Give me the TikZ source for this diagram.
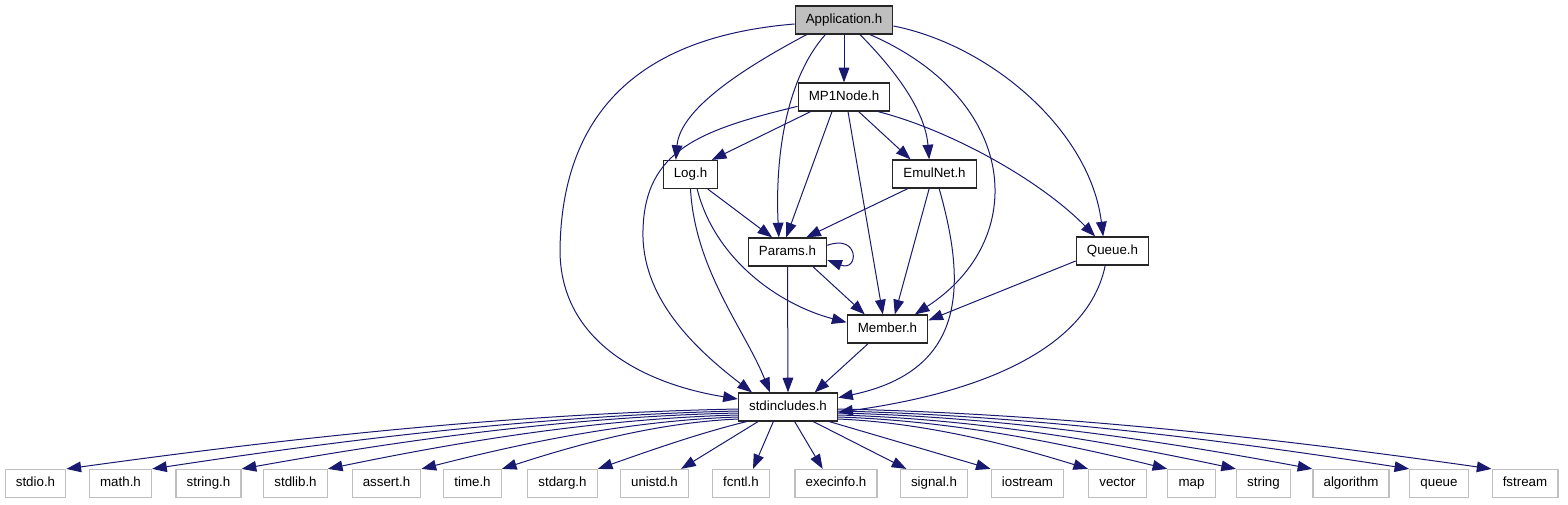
\documentclass[tikz,border=0pt]{standalone}
\usepackage{fontspec}
\setmainfont{Liberation Sans}
\usetikzlibrary{arrows.meta}
\definecolor{edgeblue}{RGB}{25,25,112}
\definecolor{boxgray}{RGB}{191,191,191}

\begin{document}
\begin{tikzpicture}[>={Triangle[length=11pt,width=8pt]}, x=0.75pt, y=-0.75pt,
  hdr/.style={draw=black!85, line width=0.9pt, fill=white, minimum height=21pt,
              text height=7.2pt, text depth=2pt,
              inner xsep=8pt, inner ysep=0pt, font=\fontsize{10}{12}\selectfont},
  sys/.style={hdr, draw=boxgray},
  dep/.style={->, draw=edgeblue, line width=0.75pt}]
  \useasboundingbox (0,0) rectangle (1568,504);

  % Cabeceras del proyecto
  \node[hdr, fill=boxgray] (app) at (844,20)  {Application.h};
  \node[hdr] (mp1node) at (844,97)    {MP1Node.h};
  \node[hdr] (logh)    at (690.5,174.5) {Log.h};
  \node[hdr] (emulnet) at (934.5,174) {EmulNet.h};
  \node[hdr] (params)  at (787.5,252) {Params.h};
  \node[hdr] (queueh)  at (1112.5,251) {Queue.h};
  \node[hdr] (member)  at (887.5,329) {Member.h};
  \node[hdr] (stdinc)  at (788,407)   {stdincludes.h};

  % Cabeceras del sistema
  \node[sys] (stdioh)    at (35.5,483.5)  {stdio.h};
  \node[sys] (mathh)     at (120.5,483.5) {math.h};
  \node[sys] (stringh)   at (208.5,483.5) {string.h};
  \node[sys] (stdlibh)   at (295.5,483.5) {stdlib.h};
  \node[sys] (asserth)   at (386.5,483.5) {assert.h};
  \node[sys] (timeh)     at (472.5,483.5) {time.h};
  \node[sys] (stdargh)   at (562.5,483.5) {stdarg.h};
  \node[sys] (unistdh)   at (654.5,483.5) {unistd.h};
  \node[sys] (fcntlh)    at (741,483.5)   {fcntl.h};
  \node[sys] (execinfoh) at (836,483.5)   {execinfo.h};
  \node[sys] (signalh)   at (934,483.5)   {signal.h};
  \node[sys] (iostream)  at (1027.5,483.5) {iostream};
  \node[sys] (vector)    at (1117.5,483.5) {vector};
  \node[sys] (map)       at (1191.5,483.5) {map};
  \node[sys] (string)    at (1263.5,483.5) {string};
  \node[sys] (algorithm) at (1351,483.5)  {algorithm};
  \node[sys] (queue)     at (1439,483.5)  {queue};
  \node[sys] (fstream)   at (1525,483.5)  {fstream};

  % Desde Application.h
  \draw[dep] (app.south) -- (mp1node.north);
  \draw[dep] ([yshift=-3pt]app.west) .. controls (660,35) and (562,95) .. (560,250)
        .. controls (560,345) and (650,385) .. ([yshift=6pt]stdinc.west);
  \draw[dep] ([xshift=-28pt]app.south) .. controls (740,70) and (680,110) .. ([xshift=-11pt]logh.north);
  \draw[dep] ([xshift=-14pt]app.south) .. controls (785,80) and (775,160) .. ([xshift=-6.5pt]params.north);
  \draw[dep] ([xshift=12pt]app.south) .. controls (895,70) and (925,110) .. ([xshift=-4pt]emulnet.north);
  \draw[dep] ([xshift=19.5pt]app.south) .. controls (1020,100) and (1030,240) .. ([xshift=20.5pt]member.north);
  \draw[dep] ([yshift=-4.5pt]app.east) .. controls (990,45) and (1090,130) .. ([xshift=-7pt]queueh.north);

  % Desde MP1Node.h
  \draw[dep] ([xshift=-25pt]mp1node.south) -- ([xshift=16pt]logh.north);
  \draw[dep] ([xshift=-9pt]mp1node.south) -- ([xshift=-1pt]params.north);
  \draw[dep] ([xshift=3pt]mp1node.south) -- ([xshift=-3.5pt]member.north);
  \draw[dep] ([xshift=11pt]mp1node.south) -- ([xshift=-18pt]emulnet.north);
  \draw[dep] ([xshift=25.5pt]mp1node.south) .. controls (950,130) and (1040,180) .. ([xshift=-13pt]queueh.north);
  \draw[dep] ([yshift=-7pt]mp1node.west) .. controls (700,130) and (645,150) .. (643,230)
        .. controls (641,295) and (690,345) .. ([xshift=-27pt]stdinc.north);

  % Desde Log.h, Params.h, EmulNet.h, Queue.h y Member.h
  \draw[dep] ([xshift=13pt]logh.south) -- ([xshift=-11.5pt]params.north);
  \draw[dep] ([xshift=5pt]logh.south) .. controls (715,260) and (780,305) .. ([yshift=5pt]member.west);
  \draw[dep] (logh.south) .. controls (695,270) and (745,330) .. ([xshift=-13.5pt]stdinc.north);
  \draw[dep] ([yshift=5pt]params.east) .. controls +(32,-12) and +(32,12) .. ([yshift=-6pt]params.east);
  \draw[dep] ([xshift=19pt]params.south) -- ([xshift=-17pt]member.north);
  \draw[dep] (params.south) -- (stdinc.north);
  \draw[dep] ([xshift=-20pt]emulnet.south) -- ([xshift=14pt]params.north);
  \draw[dep] ([xshift=-4pt]emulnet.south) -- ([xshift=5.5pt]member.north);
  \draw[dep] ([xshift=3.5pt]emulnet.south) .. controls (965,280) and (970,370) .. ([yshift=7pt]stdinc.east);
  \draw[dep] ([yshift=-7.5pt]queueh.west) -- ([yshift=6.5pt]member.east);
  \draw[dep] ([xshift=-5.5pt]queueh.south) .. controls (1090,340) and (1000,390) .. ([yshift=-4pt]stdinc.east);
  \draw[dep] ([xshift=-14.5pt]member.south) -- ([xshift=20pt]stdinc.north);

  % Desde stdincludes.h hacia la izquierda
  \draw[dep] ([yshift=-1.5pt]stdinc.west) .. controls +(-249,5) and +(181,-25) .. (stdioh.north east);
  \draw[dep] ([yshift=-3pt]stdinc.west) .. controls +(-217,5) and +(158,-24) .. (mathh.north east);
  \draw[dep] ([yshift=-4.5pt]stdinc.west) .. controls +(-184,4) and +(134,-24) .. (stringh.north east);
  \draw[dep] ([yshift=-6pt]stdinc.west) .. controls +(-152,4) and +(111,-23) .. (stdlibh.north east);
  \draw[dep] ([yshift=-7.5pt]stdinc.west) .. controls +(-118,4) and +(86,-22) .. (asserth.north east);
  \draw[dep] ([yshift=-9pt]stdinc.west) .. controls +(-88,4) and +(65,-21) .. (timeh.north east);
  \draw[dep] ([xshift=-31pt]stdinc.south) .. controls +(-50,12) and +(40,-14) .. (stdargh.north east);

  % Hacia abajo
  \draw[dep] ([xshift=-22.5pt]stdinc.south) -- ([xshift=-6pt]unistdh.north east);
  \draw[dep] ([xshift=-11pt]stdinc.south) -- ([xshift=9pt]fcntlh.north);
  \draw[dep] ([xshift=5pt]stdinc.south) -- ([xshift=-10pt]execinfoh.north);
  \draw[dep] ([xshift=19pt]stdinc.south) -- ([xshift=5pt]signalh.north west);
  \draw[dep] ([xshift=31pt]stdinc.south) -- (iostream.north west);

  % Hacia la derecha
  \draw[dep] ([yshift=-9pt]stdinc.east) .. controls +(93,4) and +(-68,-21) .. (vector.north west);
  \draw[dep] ([yshift=-7.5pt]stdinc.east) .. controls +(123,4) and +(-90,-22) .. (map.north west);
  \draw[dep] ([yshift=-6pt]stdinc.east) .. controls +(148,4) and +(-108,-23) .. (string.north west);
  \draw[dep] ([yshift=-4.5pt]stdinc.east) .. controls +(177,4) and +(-129,-24) .. (algorithm.north west);
  \draw[dep] ([yshift=-3pt]stdinc.east) .. controls +(212,5) and +(-155,-24) .. (queue.north west);
  \draw[dep] ([yshift=-1.5pt]stdinc.east) .. controls +(242,5) and +(-177,-25) .. (fstream.north west);
\end{tikzpicture}
\end{document}
